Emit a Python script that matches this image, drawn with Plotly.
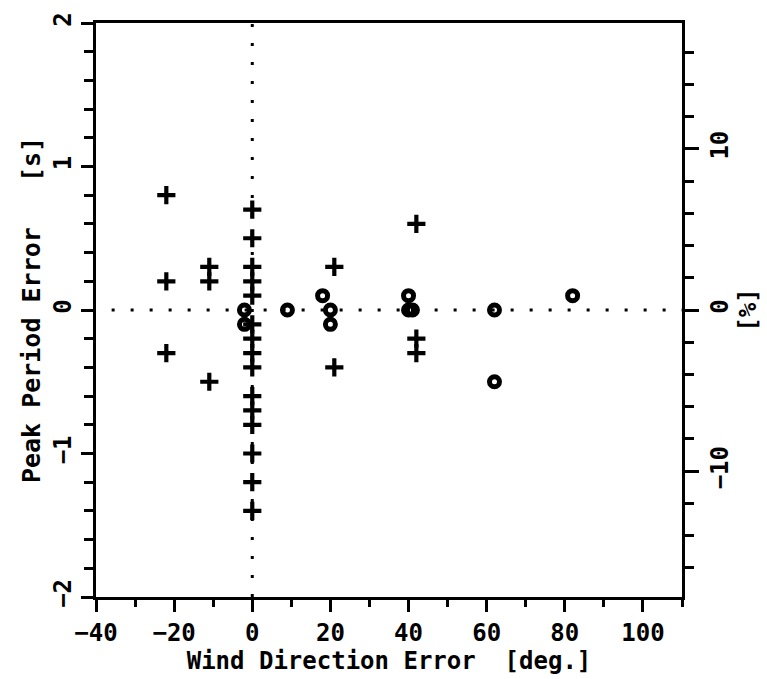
import plotly.graph_objects as go

# Data
plus_x = [-22, -22, -22, -11, -11, -11,
          0, 0, 0, 0, 0, 0, 0, 0, 0, 0, 0, 0, 0, 0, 0,
          21, 21, 42, 42, 42]
plus_y = [0.8, 0.2, -0.3, 0.3, 0.2, -0.5,
          0.7, 0.5, 0.3, 0.2, 0.1, -0.1, -0.2, -0.3, -0.4, -0.6, -0.7, -0.8, -1.0, -1.2, -1.4,
          0.3, -0.4, 0.6, -0.2, -0.3]
circ_x = [-2, -2, 9, 18, 20, 20, 40, 40, 41, 62, 62, 82]
circ_y = [0.0, -0.1, 0.0, 0.1, 0.0, -0.1, 0.1, 0.0, 0.0, 0.0, -0.5, 0.1]

x_range = [-40, 110]
y_range = [-2, 2]
pct_range = [-17.8, 17.8]
x_ticks = [-40, -20, 0, 20, 40, 60, 80, 100]
y_ticks = [-2, -1, 0, 1, 2]
pct_ticks = [-10, 0, 10]

FONT = "DejaVu Sans Mono"
fig = go.Figure()

fig.add_trace(go.Scatter(x=plus_x, y=plus_y, mode="markers",
                         marker=dict(symbol="cross-thin-open", size=13, color="black",
                                     line=dict(color="black", width=4.2)),
                         showlegend=False))
fig.add_trace(go.Scatter(x=circ_x, y=circ_y, mode="markers",
                         marker=dict(symbol="circle-open", size=10, color="black",
                                     line=dict(color="black", width=5)),
                         showlegend=False))
# invisible trace to activate right axis
fig.add_trace(go.Scatter(x=[None], y=[None], yaxis="y2", showlegend=False))

# dotted reference lines
fig.add_shape(type="line", x0=0, x1=0, y0=y_range[0], y1=y_range[1],
              line=dict(color="black", width=3, dash="3px,16px"), layer="below")
fig.add_shape(type="line", x0=-36, x1=x_range[1], y0=0, y1=0,
              line=dict(color="black", width=3, dash="3px,16px"), layer="below")

tickfont = dict(family=FONT, size=24, color="black", weight="bold")
titlefont = dict(family=FONT, size=24, color="black", weight="bold")
axis_common = dict(showgrid=False, zeroline=False, linecolor="black", linewidth=3,
                   ticks="outside", tickcolor="black", tickwidth=3,
                   tickfont=tickfont)

fig.update_layout(
    width=767, height=679,
    margin=dict(l=96, r=79, t=20, b=82),
    paper_bgcolor="white", plot_bgcolor="white",
    font=dict(family=FONT, color="black"),
    xaxis=dict(range=x_range, tickvals=x_ticks, mirror=True, ticklen=12,
               minor=dict(dtick=10, ticks="outside", ticklen=7, tickwidth=3, tickcolor="black"),
               title=dict(text="Wind Direction Error  [deg.]", font=titlefont, standoff=0),
               **axis_common),
    yaxis=dict(range=y_range, tickvals=y_ticks, tickangle=-90, mirror=True, ticklen=12,
               minor=dict(dtick=0.2, ticks="outside", ticklen=9, tickwidth=3, tickcolor="black"),
               title=dict(text="Peak Period Error   [s]", font=dict(titlefont, size=25), standoff=2),
               **axis_common),
    yaxis2=dict(range=pct_range, tickvals=pct_ticks, tickangle=-90, overlaying="y",
                side="right", ticklen=14,
                minor=dict(dtick=2, ticks="outside", ticklen=9, tickwidth=3, tickcolor="black"),
                title=dict(text="[%]", font=titlefont, standoff=4),
                **axis_common),
)

fig.write_html("out.html")
